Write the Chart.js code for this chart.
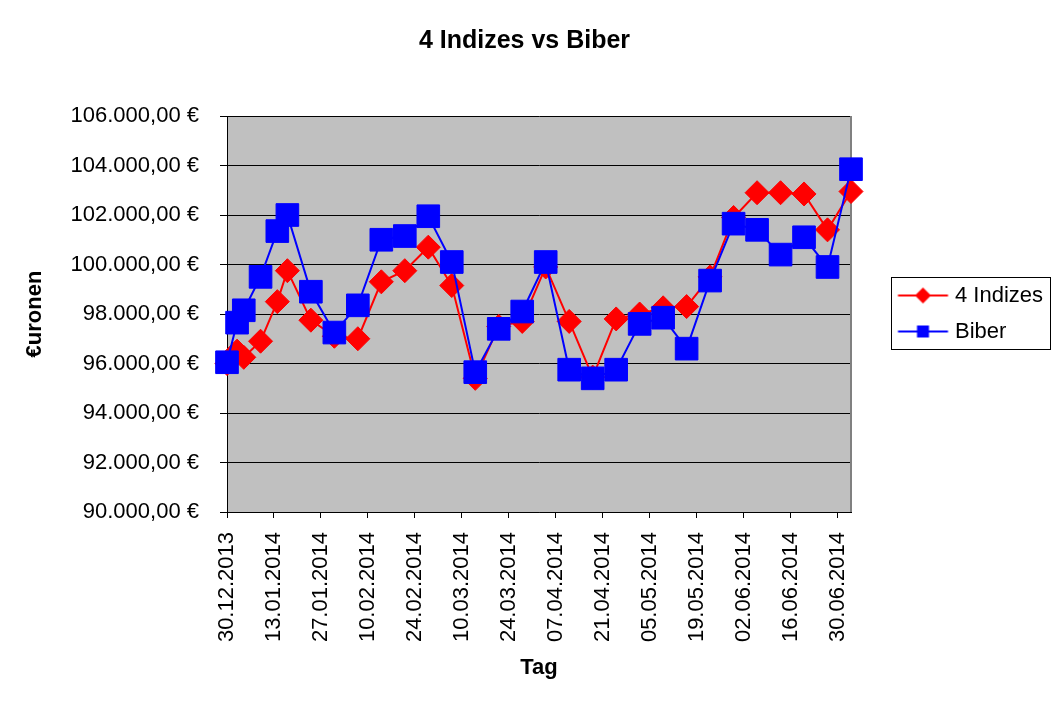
<!DOCTYPE html>
<html lang="de">
<head>
<meta charset="UTF-8">
<title>4 Indizes vs Biber</title>
<script src="https://cdn.jsdelivr.net/npm/chart.js@4"></script>
<style>
  body { margin: 0; background: #fff; }
  #wrap { width: 1058px; height: 703px; }
</style>
</head>
<body>
<div id="wrap"><canvas id="chart" width="1058" height="703"></canvas></div>
<script>
// data
const dates = ['30.12.2013','02.01.2014','04.01.2014','09.01.2014','14.01.2014','17.01.2014','24.01.2014',
  '31.01.2014','07.02.2014','14.02.2014','21.02.2014','28.02.2014','07.03.2014','14.03.2014','21.03.2014',
  '28.03.2014','04.04.2014','11.04.2014','18.04.2014','25.04.2014','02.05.2014','09.05.2014','16.05.2014',
  '23.05.2014','30.05.2014','06.06.2014','13.06.2014','20.06.2014','27.06.2014','04.07.2014'];
const indizes = [96000, 96500, 96250, 96900, 98500, 99750, 97750, 97100, 97000, 99300, 99750, 100700,
  99150, 95400, 97500, 97700, 99900, 97700, 95450, 97800, 98000, 98250, 98300, 99500, 101900, 102900,
  102900, 102850, 101400, 102950];
const biber = [96050, 97650, 98150, 99500, 101350, 102000, 98900, 97250, 98350, 101000, 101150, 101950,
  100100, 95650, 97400, 98100, 100100, 95750, 95400, 95750, 97600, 97850, 96600, 99350, 101650, 101400,
  100400, 101100, 99900, 103850];
const seriesNames = ['4 Indizes', 'Biber'];
const xStart = '30.12.2013';
const xEnd = '04.07.2014';
const xStepDays = 14;
const yMin = 90000, yMax = 106000, yStep = 2000;

const DAY = 86400000;
function toUtc(s) {
  const [d, m, y] = s.split('.').map(Number);
  return Date.UTC(y, m - 1, d);
}
const t0 = toUtc(xStart);
const dayOf = s => Math.round((toUtc(s) - t0) / DAY);
function fmtDay(n) {
  const d = new Date(t0 + n * DAY);
  const p = v => String(v).padStart(2, '0');
  return p(d.getUTCDate()) + '.' + p(d.getUTCMonth() + 1) + '.' + d.getUTCFullYear();
}
function fmtEuro(v) {
  return String(Math.round(v)).replace(/\B(?=(\d{3})+(?!\d))/g, '.') + ',00 €';
}

// small line+marker pictures for the legend
function legendIcon(color, shape) {
  const c = document.createElement('canvas');
  c.width = 80; c.height = 24;
  const g = c.getContext('2d');
  g.strokeStyle = color; g.fillStyle = color; g.lineWidth = 2;
  g.beginPath(); g.moveTo(13.5, 12); g.lineTo(63.5, 12); g.stroke();
  g.beginPath();
  if (shape === 'diamond') {
    g.moveTo(38.5 - 8, 12); g.lineTo(38.5, 4); g.lineTo(38.5 + 8, 12); g.lineTo(38.5, 20);
  } else {
    g.rect(38.5 - 6, 6, 12, 12);
  }
  g.closePath(); g.fill();
  return c;
}
const legendIcons = [legendIcon('#ff0000', 'diamond'), legendIcon('#0000ff', 'square')];

const plotFrame = {
  id: 'plotFrame',
  afterLayout(chart) {
    // put legend and title where the original has them
    const lg = chart.legend;
    lg.left = 891; lg.right = 1051; lg.top = 270.5; lg.bottom = 420;
    lg.width = 160; lg.height = 149.5;
    const tb = chart.titleBlock;
    tb.left = 0; tb.right = 1049; tb.width = 1049;
  },
  beforeDraw(chart) {
    const a = chart.chartArea, ctx = chart.ctx;
    ctx.save();
    ctx.fillStyle = '#c0c0c0';
    ctx.fillRect(a.left, a.top, a.right - a.left, a.bottom - a.top);
    ctx.restore();
  },
  beforeDatasetsDraw(chart) {
    const a = chart.chartArea, ctx = chart.ctx;
    ctx.save();
    ctx.strokeStyle = '#808080';
    ctx.lineWidth = 2;
    ctx.beginPath();
    ctx.moveTo(a.right, a.top); ctx.lineTo(a.right, a.bottom);
    ctx.stroke();
    ctx.restore();
  },
  afterDraw(chart) {
    const ctx = chart.ctx;
    ctx.save();
    ctx.strokeStyle = '#000';
    ctx.lineWidth = 1;
    ctx.strokeRect(891.5, 277.5, 159, 72);
    ctx.restore();
  }
};

Chart.defaults.font.family = "'Liberation Sans', Arial, sans-serif";
Chart.defaults.font.size = 22;
Chart.defaults.color = '#000';

new Chart(document.getElementById('chart'), {
  type: 'line',
  data: {
    datasets: [
      {
        label: seriesNames[0],
        data: dates.map((d, i) => ({ x: dayOf(d), y: indizes[i] })),
        borderColor: '#ff0000',
        backgroundColor: '#ff0000',
        borderWidth: 2,
        pointStyle: 'rectRot',
        pointRadius: 12,
        pointHoverRadius: 12,
        pointBorderWidth: 1,
        pointBackgroundColor: '#ff0000',
        pointBorderColor: '#ff0000',
        tension: 0,
        clip: false,
        order: 1
      },
      {
        label: seriesNames[1],
        data: dates.map((d, i) => ({ x: dayOf(d), y: biber[i] })),
        borderColor: '#0000ff',
        backgroundColor: '#0000ff',
        borderWidth: 2,
        pointStyle: 'rect',
        pointRadius: 16,
        pointHoverRadius: 16,
        pointBorderWidth: 1,
        pointBackgroundColor: '#0000ff',
        pointBorderColor: '#0000ff',
        tension: 0,
        clip: false,
        order: 0
      }
    ]
  },
  options: {
    responsive: false,
    animation: false,
    events: [],
    layout: { padding: { left: 10, right: 207, top: 0, bottom: 10 } },
    plugins: {
      title: {
        display: true,
        text: '4 Indizes vs Biber',
        font: { size: 25, weight: 'bold' },
        color: '#000',
        padding: { top: 26, bottom: 60 }
      },
      legend: {
        position: 'chartArea',
        align: 'start',
        labels: {
          usePointStyle: true,
          pointStyleWidth: 39,
          padding: 14,
          font: { size: 22 },
          color: '#000',
          sort: (a, b) => a.datasetIndex - b.datasetIndex,
          generateLabels(chart) {
            const items = Chart.defaults.plugins.legend.labels.generateLabels(chart);
            items.forEach(it => { it.pointStyle = legendIcons[it.datasetIndex]; });
            return items;
          }
        }
      },
      tooltip: { enabled: false }
    },
    scales: {
      x: {
        type: 'linear',
        min: 0,
        max: dayOf(xEnd),
        afterFit(scale) { scale.height = 181; },
        afterBuildTicks(scale) {
          const ticks = [];
          for (let v = 0; v <= scale.max; v += xStepDays) ticks.push({ value: v });
          scale.ticks = ticks;
        },
        ticks: {
          stepSize: xStepDays,
          autoSkip: false,
          minRotation: 90,
          maxRotation: 90,
          padding: 14,
          font: { size: 22 },
          color: '#000',
          callback: v => fmtDay(v)
        },
        grid: { drawOnChartArea: false, drawTicks: true, tickLength: 6, color: '#000' },
        border: { color: '#000', width: 1 },
        title: {
          display: true,
          text: 'Tag',
          font: { size: 22, weight: 'bold' },
          color: '#000',
          padding: { top: 0, bottom: 12 }
        }
      },
      y: {
        min: yMin,
        max: yMax,
        afterFit(scale) { scale.width = 217; },
        ticks: {
          stepSize: yStep,
          padding: 21,
          font: { size: 22 },
          color: '#000',
          callback: v => fmtEuro(v)
        },
        grid: { color: '#000', lineWidth: 1, drawTicks: true, tickLength: 7 },
        border: { color: '#000', width: 1 },
        title: {
          display: true,
          text: '€uronen',
          font: { size: 22, weight: 'bold' },
          color: '#000',
          padding: { top: 12, bottom: 0 }
        }
      }
    }
  },
  plugins: [plotFrame]
});
</script>
</body>
</html>
